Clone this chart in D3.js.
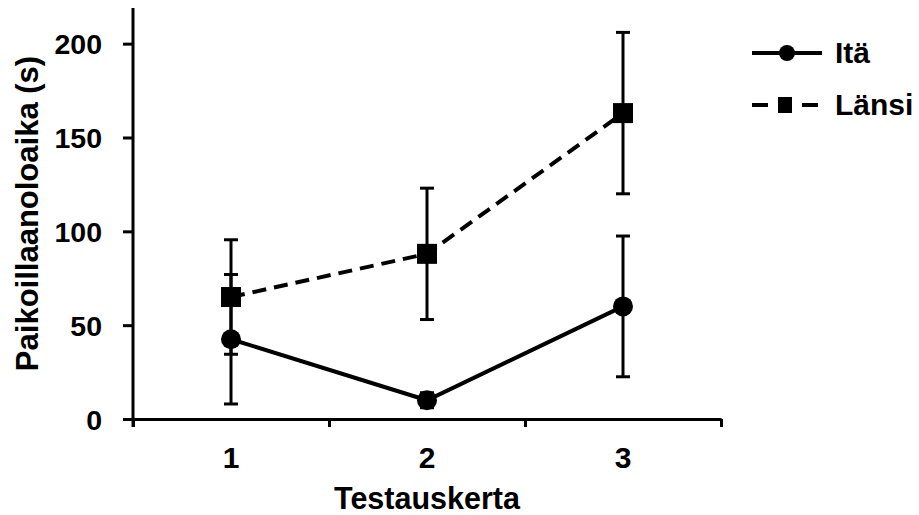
<!DOCTYPE html>
<html>
<head>
<meta charset="utf-8">
<script src="https://cdn.jsdelivr.net/npm/d3@7"></script>
<style>
    body { margin: 0; background: #fff; }
    text { font-family: "Liberation Sans", Arial, sans-serif; font-weight: bold; fill: #000; }
</style>
</head>
<body>
<div id="chart"></div>
<script>
// --- Data ---
const TESTS = [1, 2, 3];
const ITA_MEAN = [42.5, 10, 60];
const ITA_SD = [34.5, 4, 37.5];
const LANSI_MEAN = [65, 88, 163];
const LANSI_SD = [30.5, 35, 43];
const Y_TICKS = [0, 50, 100, 150, 200];

const SERIES = [
    { name: 'Itä', mean: ITA_MEAN, sd: ITA_SD, dash: null, marker: 'circle' },
    { name: 'Länsi', mean: LANSI_MEAN, sd: LANSI_SD, dash: '14,8', marker: 'square' }
];

const W = 919, H = 515;
const svg = d3.select('#chart').append('svg')
    .attr('width', W)
    .attr('height', H);

// --- Scales ---
const x = d3.scaleLinear().domain([0.5, 3.5]).range([133, 721]);
const y = d3.scaleLinear().domain([0, 219]).range([419, 8]);

// --- Axes ---
const yAxis = svg.append('g')
    .attr('transform', 'translate(133,0)')
    .call(d3.axisLeft(y).tickValues(Y_TICKS).tickSize(10).tickPadding(21).tickSizeOuter(0));
yAxis.select('.domain').attr('d', `M0,${y(219)}V427`);

const xAxis = svg.append('g')
    .attr('transform', 'translate(0,419)')
    .call(d3.axisBottom(x).tickValues([0.5, 1.5, 2.5, 3.5]).tickSize(8).tickFormat('').tickSizeOuter(0));

svg.selectAll('.domain, .tick line')
    .attr('stroke', '#000')
    .attr('stroke-width', 3);
yAxis.selectAll('text').attr('font-size', '28.5px').attr('font-family', null).attr('dy', '0.36em');

// x tick labels at the centres
svg.append('g').selectAll('text')
    .data(TESTS)
    .enter().append('text')
    .attr('x', d => x(d))
    .attr('y', 468)
    .attr('text-anchor', 'middle')
    .attr('font-size', '30px')
    .text(d => d);

// --- Axis labels ---
svg.append('text')
    .attr('x', x(2))
    .attr('y', 509)
    .attr('text-anchor', 'middle')
    .attr('font-size', '30.5px')
    .text('Testauskerta');

svg.append('text')
    .attr('transform', `translate(38,${(y(219) + y(0)) / 2}) rotate(-90)`)
    .attr('text-anchor', 'middle')
    .attr('font-size', '31px')
    .text('Paikoillaanoloaika (s)');

// --- Error bars ---
SERIES.forEach(s => {
    const g = svg.append('g');
    TESTS.forEach((t, i) => {
        const cx = x(t);
        const hi = y(s.mean[i] + s.sd[i]);
        const lo = y(s.mean[i] - s.sd[i]);
        g.append('line').attr('x1', cx).attr('x2', cx).attr('y1', hi).attr('y2', lo)
            .attr('stroke', '#000').attr('stroke-width', 3);
        [hi, lo].forEach(yy => {
            g.append('line').attr('x1', cx - 7).attr('x2', cx + 7).attr('y1', yy).attr('y2', yy)
                .attr('stroke', '#000').attr('stroke-width', 3);
        });
    });
});

// --- Lines + markers ---
const lineGen = d3.line()
    .x((d, i) => x(TESTS[i]))
    .y(d => y(d));

SERIES.forEach(s => {
    svg.append('path')
        .datum(s.mean)
        .attr('d', lineGen)
        .attr('fill', 'none')
        .attr('stroke', '#000')
        .attr('stroke-width', 4)
        .attr('stroke-dasharray', s.dash);

    if (s.marker === 'circle') {
        svg.selectAll(null)
            .data(s.mean)
            .enter().append('circle')
            .attr('cx', (d, i) => x(TESTS[i]))
            .attr('cy', d => y(d))
            .attr('r', 10)
            .attr('fill', '#000');
    } else {
        svg.selectAll(null)
            .data(s.mean)
            .enter().append('rect')
            .attr('x', (d, i) => x(TESTS[i]) - 10)
            .attr('y', d => y(d) - 10)
            .attr('width', 20)
            .attr('height', 20)
            .attr('fill', '#000');
    }
});

// --- Legend ---
const legend = svg.append('g').attr('transform', 'translate(752,0)');
SERIES.forEach((s, i) => {
    const ly = 53 + i * 52;
    const len = s.dash ? 66 : 70;
    legend.append('line')
        .attr('x1', 0).attr('x2', len).attr('y1', ly).attr('y2', ly)
        .attr('stroke', '#000').attr('stroke-width', 4)
        .attr('stroke-dasharray', s.dash ? '16,34,16' : null);
    if (s.marker === 'circle') {
        legend.append('circle').attr('cx', 35).attr('cy', ly).attr('r', 8).attr('fill', '#000');
    } else {
        legend.append('rect').attr('x', 26).attr('y', ly - 8).attr('width', 14).attr('height', 16).attr('fill', '#000');
    }
    legend.append('text')
        .attr('x', 83)
        .attr('y', ly + 10)
        .attr('font-size', '30px')
        .text(s.name);
});
</script>
</body>
</html>
